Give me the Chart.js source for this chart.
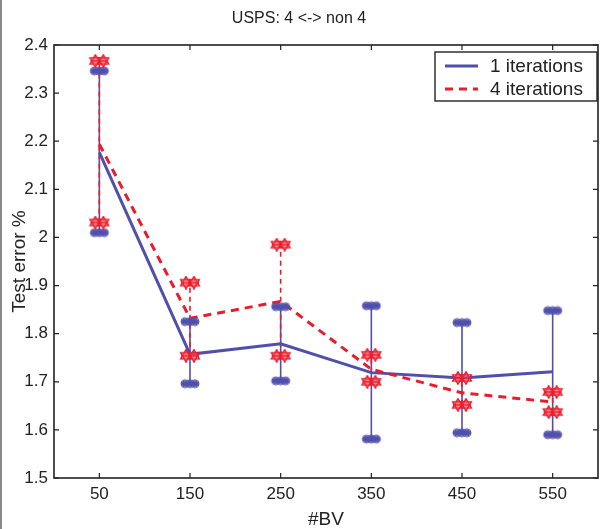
<!DOCTYPE html>
<html>
<head>
<meta charset="utf-8">
<script src="https://cdn.jsdelivr.net/npm/chart.js@4.4.1/dist/chart.umd.min.js"></script>
<style>
  html, body { margin: 0; padding: 0; background: #fff; overflow: hidden; }
  #wrap { position: relative; width: 602px; height: 529px; }
</style>
</head>
<body>
<div id="wrap"><canvas id="c" width="602" height="529"></canvas></div>
<script>
// ---- data ----
const bv = [50, 150, 250, 350, 450, 550];
const xTicks = [50, 150, 250, 350, 450, 550];
const yTicks = [1.5, 1.6, 1.7, 1.8, 1.9, 2.0, 2.1, 2.2, 2.3, 2.4];

const mean1 = [2.177, 1.757, 1.779, 1.719, 1.708, 1.721];
const low1  = [2.010, 1.696, 1.702, 1.581, 1.594, 1.590];
const high1 = [2.346, 1.825, 1.856, 1.858, 1.823, 1.848];

const mean4 = [2.194, 1.832, 1.867, 1.726, 1.677, 1.658];
const low4  = [2.031, 1.754, 1.754, 1.700, 1.652, 1.637];
const high4 = [2.367, 1.906, 1.985, 1.756, 1.708, 1.679];

const titleText = 'USPS: 4 <-> non 4';
const xTitle = '#BV';
const yTitle = 'Test error %';
const labels = ['1 iterations', '4 iterations'];

// ---- styles ----
const BLUE = 'rgb(80,80,172)';
const RED = 'rgb(234,28,44)';
const FONT = "'Liberation Sans', Arial, Helvetica, sans-serif";
const INK = '#222';

function makeBlueMarker() {
  const c = document.createElement('canvas');
  c.width = 22; c.height = 12;
  const g = c.getContext('2d');
  g.strokeStyle = BLUE; g.lineWidth = 1.5;
  g.beginPath(); g.moveTo(2, 6); g.lineTo(20, 6); g.stroke();
  [-5, 0, 5].forEach(dx => {
    for (let k = 0; k < 6; k++) {
      const a = k * Math.PI / 6;
      g.beginPath();
      g.moveTo(11 + dx - Math.cos(a) * 4.5, 6 - Math.sin(a) * 4.5);
      g.lineTo(11 + dx + Math.cos(a) * 4.5, 6 + Math.sin(a) * 4.5);
      g.stroke();
    }
  });
  return c;
}
function makeRedMarker() {
  const c = document.createElement('canvas');
  c.width = 24; c.height = 14;
  const g = c.getContext('2d');
  g.strokeStyle = RED; g.lineWidth = 1.4;
  g.fillStyle = 'rgba(240,90,100,0.45)';
  [-4, 4].forEach(dx => {
    const cx = 12 + dx, cy = 7;
    [0, Math.PI].forEach(rot => {
      g.beginPath();
      for (let k = 0; k < 3; k++) {
        const a = rot - Math.PI / 2 + k * 2 * Math.PI / 3;
        const px = cx + Math.cos(a) * 6.2, py = cy + Math.sin(a) * 6.2;
        if (k === 0) g.moveTo(px, py); else g.lineTo(px, py);
      }
      g.closePath(); g.fill(); g.stroke();
    });
  });
  g.beginPath(); g.moveTo(3, 7); g.lineTo(21, 7); g.stroke();
  return c;
}
const blueMarker = makeBlueMarker();
const redMarker = makeRedMarker();

function pts(xs, ys) { return xs.map((x, i) => ({ x: x, y: ys[i] })); }

// error bars, inward ticks, frame, legend
const decor = {
  id: 'decor',
  beforeDatasetsDraw(chart) {
    const g = chart.ctx, xs = chart.scales.x, ys = chart.scales.y;
    g.save();
    g.strokeStyle = BLUE; g.lineWidth = 1.6; g.setLineDash([]);
    bv.forEach((x, i) => {
      const px = xs.getPixelForValue(x);
      g.beginPath(); g.moveTo(px, ys.getPixelForValue(low1[i])); g.lineTo(px, ys.getPixelForValue(high1[i])); g.stroke();
    });
    g.strokeStyle = RED; g.lineWidth = 1.6; g.setLineDash([5, 4]);
    bv.forEach((x, i) => {
      const px = xs.getPixelForValue(x);
      g.beginPath(); g.moveTo(px, ys.getPixelForValue(low4[i])); g.lineTo(px, ys.getPixelForValue(high4[i])); g.stroke();
    });
    g.restore();
  },
  afterDraw(chart) {
    const g = chart.ctx, a = chart.chartArea, xs = chart.scales.x, ys = chart.scales.y;
    g.save();
    g.fillStyle = '#8a8a8a'; g.fillRect(0, 0, 2, chart.height);
    g.strokeStyle = INK; g.lineWidth = 1.6; g.setLineDash([]);
    g.strokeRect(a.left, a.top, a.right - a.left, a.bottom - a.top);
    g.lineWidth = 1.2;
    xs.ticks.forEach(t => {
      const px = xs.getPixelForValue(t.value);
      g.beginPath();
      g.moveTo(px, a.bottom); g.lineTo(px, a.bottom - 5);
      g.moveTo(px, a.top); g.lineTo(px, a.top + 5);
      g.stroke();
    });
    ys.ticks.forEach(t => {
      const py = ys.getPixelForValue(t.value);
      g.beginPath();
      g.moveTo(a.left, py); g.lineTo(a.left + 5, py);
      g.moveTo(a.right, py); g.lineTo(a.right - 5, py);
      g.stroke();
    });
    // legend box
    const bx = 435, by = 52, bw = 162, bh = 49;
    g.fillStyle = '#fff'; g.fillRect(bx, by, bw, bh);
    g.strokeStyle = INK; g.lineWidth = 1.4; g.strokeRect(bx, by, bw, bh);
    const rows = [
      { ds: chart.data.datasets[0], y: by + 14 },
      { ds: chart.data.datasets[1], y: by + 37 }
    ];
    rows.forEach(r => {
      g.strokeStyle = r.ds.borderColor; g.lineWidth = 3;
      g.setLineDash(r.ds.borderDash || []);
      g.beginPath(); g.moveTo(bx + 10, r.y); g.lineTo(bx + 43, r.y); g.stroke();
      g.setLineDash([]);
      g.fillStyle = INK; g.font = '19px ' + FONT; g.textBaseline = 'middle'; g.textAlign = 'left';
      g.fillText(r.ds.label, bx + 55, r.y + 1);
    });
    g.restore();
  }
};

new Chart(document.getElementById('c'), {
  type: 'line',
  data: {
    datasets: [
      { label: labels[0], data: pts(bv, mean1), borderColor: BLUE, borderWidth: 3,
        pointRadius: 0, fill: false, tension: 0, order: 4 },
      { label: labels[1], data: pts(bv, mean4), borderColor: RED, borderWidth: 3,
        borderDash: [8, 6], pointRadius: 0, fill: false, tension: 0, order: 3 },
      { label: 'err1', data: pts(bv, low1).concat(pts(bv, high1)), showLine: false,
        pointStyle: blueMarker, pointRadius: 8, borderColor: BLUE, backgroundColor: BLUE, order: 2 },
      { label: 'err4', data: pts(bv, low4).concat(pts(bv, high4)), showLine: false,
        pointStyle: redMarker, pointRadius: 8, borderColor: RED, backgroundColor: RED, order: 1 }
    ]
  },
  options: {
    responsive: false,
    animation: false,
    layout: { autoPadding: false, padding: { left: 0, right: 4, top: 0, bottom: 0 } },
    plugins: {
      legend: { display: false },
      tooltip: { enabled: false },
      title: { display: true, fullSize: true, text: titleText, color: INK,
        font: { family: FONT, size: 16, weight: 'normal', lineHeight: 1.2 },
        padding: { top: 9, bottom: 16.8 } }
    },
    scales: {
      x: {
        type: 'linear', min: 0, max: 600,
        afterBuildTicks: s => { s.ticks = xTicks.map(v => ({ value: v })); },
        afterFit: s => { s.height = 51; s.paddingRight = 0; s.paddingLeft = 0; },
        grid: { display: false, drawTicks: false },
        border: { display: false },
        ticks: { color: INK, padding: 6, font: { family: FONT, size: 17 },
          callback: v => String(v) },
        title: { display: true, text: xTitle, color: INK, padding: { top: 0, bottom: -2 },
          font: { family: FONT, size: 19 } }
      },
      y: {
        type: 'linear', min: 1.5, max: 2.4,
        afterBuildTicks: s => { s.ticks = yTicks.map(v => ({ value: v })); },
        afterFit: s => { s.width = 54; s.paddingTop = 0; s.paddingBottom = 0; },
        grid: { display: false, drawTicks: false },
        border: { display: false },
        ticks: { color: INK, padding: 6, font: { family: FONT, size: 17 },
          callback: v => String(Number(v.toFixed(1))) },
        title: { display: true, text: yTitle, color: INK, padding: { top: 8, bottom: 0 },
          font: { family: FONT, size: 19 } }
      }
    }
  },
  plugins: [decor]
});
</script>
</body>
</html>
